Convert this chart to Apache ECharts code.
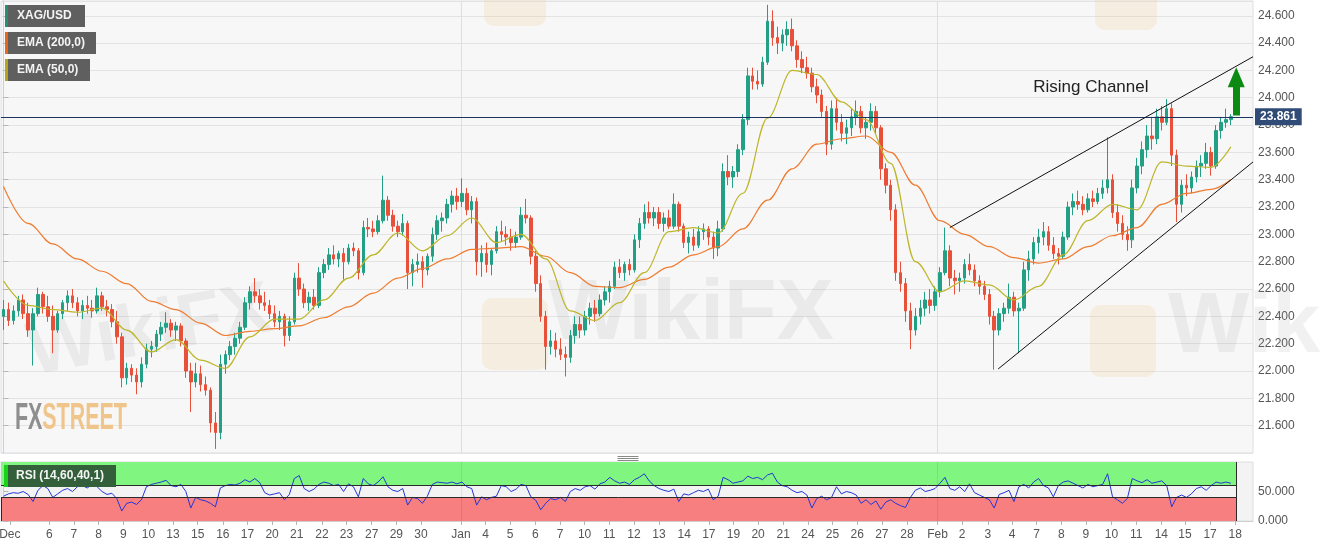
<!DOCTYPE html>
<html><head><meta charset="utf-8">
<script src="https://cdn.jsdelivr.net/npm/echarts@6/dist/echarts.min.js"></script>
<style>html,body{margin:0;padding:0;background:#fff}#c{width:1324px;height:548px}</style>
</head><body><div id="c"></div>
<script>
// ---- XAG/USD candles ----
const opens = [
22.40,22.45,22.37,22.44,22.52,22.42,22.30,22.42,22.56,22.47,
22.40,22.30,22.42,22.50,22.55,22.50,22.44,22.48,22.46,22.44,
22.55,22.47,22.45,22.36,22.25,21.95,22.02,21.97,21.92,22.05,
22.16,22.18,22.27,22.32,22.35,22.30,22.33,22.22,22.00,21.92,
21.98,21.90,21.86,21.62,21.55,22.05,22.12,22.18,22.24,22.32,
22.50,22.58,22.55,22.50,22.48,22.42,22.36,22.40,22.26,22.36,
22.68,22.60,22.50,22.54,22.48,22.72,22.78,22.85,22.82,22.86,
22.80,22.90,22.88,22.72,23.05,23.04,23.02,23.10,23.25,23.14,
23.06,23.02,23.08,22.72,22.78,22.80,22.74,22.84,23.00,23.10,
23.12,23.22,23.28,23.24,23.30,23.18,23.24,22.80,22.86,22.78,
22.88,23.02,23.00,22.98,22.94,22.98,23.14,23.12,22.84,22.64,
22.40,22.18,22.22,22.16,22.12,22.10,22.26,22.34,22.30,22.40,
22.46,22.42,22.52,22.58,22.62,22.76,22.72,22.78,22.74,22.96,
23.08,23.16,23.12,23.16,23.08,23.12,23.06,23.22,23.06,22.94,
22.98,22.92,23.02,23.04,22.98,22.90,23.04,23.46,23.42,23.46,
23.62,23.84,24.16,24.12,24.10,24.26,24.56,24.44,24.40,24.46,
24.50,24.38,24.28,24.22,24.18,24.08,24.02,23.90,23.66,23.92,
23.82,23.74,23.78,23.86,23.90,23.78,23.82,23.90,23.78,23.48,
23.36,23.18,22.72,22.64,22.44,22.30,22.40,22.46,22.52,22.48,
22.58,22.72,22.88,22.68,22.66,22.68,22.78,22.74,22.66,22.62,
22.56,22.40,22.30,22.42,22.46,22.54,22.44,22.46,22.74,22.82,
22.94,22.98,23.02,22.92,22.86,22.84,22.98,23.20,23.24,23.22,
23.18,23.26,23.24,23.30,23.34,23.40,23.16,23.08,23.00,22.96,
23.34,23.50,23.62,23.72,23.70,23.86,23.82,23.92,23.58,23.22,
23.36,23.34,23.42,23.50,23.52,23.60,23.50,23.76,23.82,23.84];
const closes = [
22.45,22.37,22.44,22.52,22.42,22.30,22.42,22.56,22.47,22.40,
22.30,22.42,22.50,22.55,22.50,22.44,22.48,22.46,22.44,22.55,
22.47,22.45,22.36,22.25,21.95,22.02,21.97,21.92,22.05,22.16,
22.18,22.27,22.32,22.35,22.30,22.33,22.22,22.00,21.92,21.98,
21.90,21.86,21.62,21.55,22.05,22.12,22.18,22.24,22.32,22.50,
22.58,22.55,22.50,22.48,22.42,22.36,22.40,22.26,22.36,22.68,
22.60,22.50,22.54,22.48,22.72,22.78,22.85,22.82,22.86,22.80,
22.90,22.88,22.72,23.05,23.04,23.02,23.10,23.25,23.14,23.06,
23.02,23.08,22.72,22.78,22.80,22.74,22.84,23.00,23.10,23.12,
23.22,23.28,23.24,23.30,23.18,23.24,22.80,22.86,22.78,22.88,
23.02,23.00,22.98,22.94,22.98,23.14,23.12,22.84,22.64,22.40,
22.18,22.22,22.16,22.12,22.10,22.26,22.34,22.30,22.40,22.46,
22.42,22.52,22.58,22.62,22.76,22.72,22.78,22.74,22.96,23.08,
23.16,23.12,23.16,23.08,23.12,23.06,23.22,23.06,22.94,22.98,
22.92,23.02,23.04,22.98,22.90,23.04,23.46,23.42,23.46,23.62,
23.84,24.16,24.12,24.10,24.26,24.56,24.44,24.40,24.46,24.50,
24.38,24.28,24.22,24.18,24.08,24.02,23.90,23.66,23.92,23.82,
23.74,23.78,23.86,23.90,23.78,23.82,23.90,23.78,23.48,23.36,
23.18,22.72,22.64,22.44,22.30,22.40,22.46,22.52,22.48,22.58,
22.72,22.88,22.68,22.66,22.68,22.78,22.74,22.66,22.62,22.56,
22.40,22.30,22.42,22.46,22.54,22.44,22.46,22.74,22.82,22.94,
22.98,23.02,22.92,22.86,22.84,22.98,23.20,23.24,23.22,23.18,
23.26,23.24,23.30,23.34,23.40,23.16,23.08,23.00,22.96,23.34,
23.50,23.62,23.72,23.70,23.86,23.82,23.92,23.58,23.22,23.36,
23.34,23.42,23.50,23.52,23.60,23.50,23.76,23.82,23.84,23.861];
const lows = [
22.30,22.33,22.34,22.40,22.38,22.25,22.04,22.40,22.42,22.36,
22.13,22.28,22.38,22.44,22.46,22.40,22.38,22.42,22.39,22.42,
22.44,22.40,22.32,22.20,21.88,21.90,21.92,21.83,21.88,22.02,
22.10,22.14,22.22,22.28,22.25,22.22,22.18,21.95,21.70,21.88,
21.85,21.82,21.55,21.43,21.50,21.98,22.08,22.12,22.20,22.30,
22.45,22.50,22.45,22.44,22.38,22.32,22.30,22.18,22.22,22.34,
22.55,22.46,22.44,22.45,22.46,22.68,22.74,22.78,22.76,22.67,
22.78,22.84,22.67,22.70,22.98,22.98,23.00,23.08,23.10,23.02,
22.98,22.99,22.60,22.62,22.72,22.61,22.70,22.80,22.96,23.02,
23.08,23.16,23.18,23.20,23.14,23.08,22.70,22.69,22.72,22.70,
22.86,22.95,22.92,22.88,22.90,22.96,23.08,22.78,22.58,22.36,
22.01,22.12,22.10,22.08,21.96,22.06,22.20,22.24,22.26,22.34,
22.36,22.40,22.48,22.50,22.60,22.68,22.66,22.70,22.72,22.90,
23.04,23.08,23.06,23.04,23.02,23.04,23.04,23.02,22.90,22.86,
22.88,22.90,22.96,22.92,22.82,22.84,23.02,23.36,23.34,23.42,
23.58,23.80,24.06,24.06,24.08,24.24,24.38,24.32,24.34,24.38,
24.34,24.22,24.18,24.14,24.04,23.96,23.86,23.58,23.62,23.76,
23.68,23.66,23.72,23.80,23.74,23.70,23.76,23.74,23.40,23.30,
23.10,22.66,22.58,22.36,22.16,22.26,22.34,22.40,22.42,22.44,
22.54,22.70,22.62,22.56,22.58,22.64,22.70,22.62,22.56,22.52,
22.34,22.01,22.26,22.36,22.42,22.40,22.13,22.44,22.66,22.78,
22.86,22.92,22.88,22.82,22.78,22.82,22.96,23.14,23.18,23.14,
23.16,23.20,23.22,23.26,23.30,23.12,23.02,22.96,22.88,22.90,
23.30,23.44,23.56,23.62,23.66,23.76,23.80,23.50,23.09,23.16,
23.28,23.30,23.38,23.42,23.48,23.43,23.48,23.70,23.78,23.80];
const highs = [
22.52,22.50,22.48,22.55,22.56,22.50,22.46,22.61,22.58,22.55,
22.48,22.44,22.52,22.59,22.60,22.54,22.52,22.55,22.52,22.61,
22.58,22.52,22.49,22.44,22.28,22.06,22.05,22.02,22.10,22.20,
22.22,22.30,22.36,22.43,22.38,22.36,22.35,22.24,22.06,22.06,
22.04,21.96,21.88,21.70,22.12,22.15,22.22,22.28,22.36,22.54,
22.62,22.68,22.60,22.58,22.52,22.48,22.44,22.42,22.40,22.72,
22.79,22.64,22.58,22.60,22.76,22.82,22.90,22.92,22.88,22.90,
22.93,22.94,22.90,23.10,23.12,23.10,23.14,23.43,23.28,23.18,
23.10,23.15,23.10,22.82,22.86,22.84,22.86,23.05,23.14,23.16,
23.26,23.32,23.34,23.41,23.34,23.28,23.27,22.92,22.94,22.90,
23.06,23.10,23.06,23.04,23.02,23.20,23.26,23.14,22.88,22.70,
22.44,22.30,22.28,22.24,22.18,22.30,22.40,22.40,22.44,22.50,
22.52,22.56,22.62,22.66,22.80,22.82,22.80,22.82,23.00,23.12,
23.22,23.24,23.20,23.20,23.16,23.18,23.30,23.24,23.08,23.02,
23.04,23.06,23.08,23.06,23.02,23.10,23.52,23.58,23.50,23.66,
23.88,24.22,24.22,24.20,24.30,24.68,24.64,24.52,24.50,24.56,
24.58,24.42,24.34,24.30,24.22,24.14,24.06,23.94,23.98,24.00,
23.88,23.84,23.92,23.98,23.94,23.86,23.96,23.94,23.80,23.52,
23.40,23.22,22.80,22.68,22.50,22.46,22.52,22.58,22.60,22.62,
22.76,23.05,22.92,22.74,22.72,22.82,22.86,22.78,22.70,22.66,
22.60,22.44,22.46,22.50,22.64,22.58,22.50,22.80,22.88,22.98,
23.04,23.09,23.06,22.98,22.90,23.02,23.24,23.30,23.32,23.28,
23.30,23.32,23.34,23.40,23.71,23.44,23.22,23.14,23.06,23.40,
23.56,23.68,23.80,23.86,23.92,23.94,23.99,23.96,23.62,23.40,
23.44,23.46,23.54,23.58,23.67,23.64,23.80,23.86,23.92,23.88];

// EMA values read every 5 bars (last one at bar 249)
const emaBars = [0,5,10,15,20,25,30,35,40,45,50,55,60,65,70,75,80,85,90,95,100,105,110,115,120,125,130,135,140,145,150,155,160,165,170,175,180,185,190,195,200,205,210,215,220,225,230,235,240,245,249];
const ema200 = [
23.35,23.08,22.93,22.82,22.73,22.64,22.51,22.45,22.35,22.26,
22.29,22.31,22.33,22.39,22.47,22.57,22.68,22.75,22.82,22.89,
22.90,22.91,22.84,22.72,22.62,22.61,22.67,22.76,22.85,22.91,
23.04,23.25,23.48,23.66,23.70,23.72,23.60,23.36,23.10,23.00,
22.91,22.83,22.79,22.82,22.91,22.99,23.05,23.22,23.30,23.33,
23.40];
const ema50 = [
22.66,22.48,22.45,22.43,22.46,22.30,22.14,22.23,22.08,22.02,
22.25,22.38,22.38,22.52,22.68,22.85,23.01,22.88,22.99,23.12,
22.94,23.00,22.82,22.44,22.37,22.50,22.72,23.02,23.05,23.01,
23.30,23.85,24.20,24.17,23.97,23.84,23.52,22.80,22.58,22.66,
22.63,22.52,22.62,22.85,23.10,23.22,23.18,23.53,23.50,23.49,
23.64];

// RSI (14) per bar
const rsi = [
42,46,48,47,50,45,33,52,60,55, 40,46,52,55,50,58,60,56,62,58,
50,45,47,38,17,30,32,28,36,58, 62,64,66,69,60,58,62,50,22,40,
36,34,30,24,56,60,62,61,64,70, 66,72,65,48,44,46,48,36,45,72,
77,55,50,54,62,66,64,60,62,50, 63,58,41,72,63,60,66,75,58,52,
50,55,27,40,38,30,42,62,66,65, 64,66,63,66,58,55,27,41,36,40,
42,60,58,50,54,62,60,41,35,19, 30,38,36,40,33,50,55,52,58,60,
54,63,66,74,68,64,66,62,70,74, 80,68,60,55,52,50,54,33,46,44,
48,52,50,54,36,42,74,70,64,66, 68,76,72,74,70,78,81,66,60,58,
52,48,50,44,22,38,42,36,40,58, 46,50,48,44,30,36,28,34,20,32,
36,30,26,23,40,52,56,50,52,55, 64,74,55,52,58,50,63,48,44,40,
36,22,45,48,52,33,58,62,56,66, 72,60,56,41,60,66,68,64,60,56,
62,58,60,62,80,41,36,30,38,72, 68,65,70,64,66,68,60,24,40,44,
40,46,55,58,52,60,66,64,66,64];

// x-axis day labels and the bar positions where they fall
const tickLabels = ['Dec','6','7','8','9','10','13','15','16','17','20','21','22','23','27','29','30','Jan','4','5','6','7','10','11','12','13','14','17','19','20','21','24','25','26','27','28','Feb','2','3','4','7','8','9','10','11','14','15','17','18'];
const tickBars = [1.3,9.3,14.3,19.3,24.3,29.4,34.4,39.4,44.5,49.5,54.5,59.5,64.6,69.6,74.7,79.7,84.7,92.8,97.8,102.8,107.9,112.9,117.9,122.9,127.9,133,138.1,143.1,148.1,153.1,158.2,163.2,168.2,173.2,178.2,183.3,189.5,194.5,199.7,204.6,209.6,214.6,219.6,224.8,229.8,234.9,239.7,244.8,249.9];

const lastPrice = 23.861;
const channelUpper = [[192.0, 23.05], [253.5, 24.30]];
const channelLower = [[201.8, 22.015], [253.5, 23.53]];
const monthBars = [92.8, 189.5];
const arrowBar = 250.1, arrowFrom = 23.87, arrowTo = 24.15;
const rsiUpper = 60, rsiLower = 40, rsiEnd = 250.1;

// ---- build ----
const SLOTS = 254;
const cats = []; for (let i = 0; i < SLOTS; i++) cats.push(String(i));
const candleData = opens.map((o, i) => [o, closes[i], lows[i], highs[i]]);
const e200 = ema200.map((v, k) => [emaBars[k], v]);
const e50 = ema50.map((v, k) => [emaBars[k], v]);
const rsiData = rsi.map((v, i) => [i, v]);
const FONT = '"Liberation Sans", Arial, sans-serif';

const chart = echarts.init(document.getElementById('c'), null, {renderer: 'canvas'});

function labelBox(left, top, w, stripeW, bg, stripe, text) {
  return {type: 'group', left: left, top: top, z: 100, children: [
    {type: 'rect', z: 100, shape: {x: 0, y: 0, width: w, height: 22}, style: {fill: bg}},
    {type: 'rect', z: 101, shape: {x: 0, y: 0, width: stripeW, height: 22}, style: {fill: stripe}},
    {type: 'text', z: 102, x: 12, y: 11, style: {text: text, fill: '#f4f4f4', font: 'bold 12px ' + FONT, verticalAlign: 'middle'}}
  ]};
}
const wm = 'rgba(150,150,150,0.13)';
const wmLogo = 'rgba(240,200,130,0.2)';

chart.setOption({
  animation: false,
  textStyle: {fontFamily: FONT},
  grid: [
    {left: 1, top: 1, width: 1252, height: 452, show: true, backgroundColor: '#f7f7f7', borderColor: '#dcdce6', borderWidth: 1, outerBoundsMode: 'none', containLabel: false},
    {left: 1, top: 462, width: 1252, height: 59, show: true, backgroundColor: '#f3f3f3', borderColor: '#dcdce6', borderWidth: 1, outerBoundsMode: 'none', containLabel: false}
  ],
  xAxis: [
    {type: 'category', gridIndex: 0, data: cats, boundaryGap: true, show: false},
    {type: 'value', gridIndex: 0, min: -0.5, max: SLOTS - 0.5, show: false},
    {type: 'value', gridIndex: 1, min: -0.5, max: SLOTS - 0.5,
      axisLine: {show: true, lineStyle: {color: '#cfcfcf'}},
      axisTick: {show: true, customValues: tickBars, length: 4, lineStyle: {color: '#b5b5b5'}},
      axisLabel: {show: true, customValues: tickBars, color: '#555', fontSize: 12, margin: 8, hideOverlap: false,
        formatter: function (v) { const k = tickBars.findIndex(t => Math.abs(t - v) < 1e-6); return k >= 0 ? tickLabels[k] : ''; }},
      splitLine: {show: false}}
  ],
  yAxis: [
    {type: 'value', gridIndex: 0, position: 'right', min: 21.4, max: 24.708, interval: 0.2,
      axisLine: {show: true, lineStyle: {color: '#cfcfcf'}},
      axisTick: {show: true, length: 5, lineStyle: {color: '#b5b5b5'}},
      axisLabel: {color: '#555', fontSize: 12, margin: 5, showMinLabel: false, showMaxLabel: false,
        formatter: v => v.toFixed(3)},
      splitLine: {show: true, lineStyle: {color: '#e3e3e3', width: 1}}},
    {type: 'value', gridIndex: 1, position: 'right', min: 0, max: 100, interval: 50,
      axisLine: {show: true, lineStyle: {color: '#cfcfcf'}},
      axisTick: {show: true, length: 5, lineStyle: {color: '#b5b5b5'}},
      axisLabel: {color: '#555', fontSize: 12, margin: 5, showMaxLabel: false, formatter: v => v.toFixed(3)},
      splitLine: {show: false}}
  ],
  series: [
    {type: 'candlestick', name: 'XAG/USD', xAxisIndex: 0, yAxisIndex: 0, data: candleData, barWidth: 3, z: 3,
      itemStyle: {color: '#22a086', color0: '#e8503a', borderColor: '#22a086', borderColor0: '#e8503a', borderWidth: 1},
      markLine: {silent: true, symbol: 'none', animation: false,
        lineStyle: {color: '#1d3461', width: 1, type: 'solid'},
        label: {show: true, position: 'end', distance: 2, formatter: lastPrice.toFixed(3), color: '#fff', backgroundColor: '#2f4b76',
          padding: [3, 5, 2, 5], fontSize: 12, fontWeight: 'bold'},
        data: [{yAxis: lastPrice}]}},
    {type: 'line', name: 'EMA (200,0)', xAxisIndex: 1, yAxisIndex: 0, data: e200, showSymbol: false, smooth: 0.35, smoothMonotone: 'x',
      lineStyle: {color: '#ee7b30', width: 1.2}, z: 4,
      markLine: {silent: true, symbol: 'none', label: {show: false}, lineStyle: {color: '#dedede', width: 1, type: 'solid'}, z: 1,
        data: monthBars.map(b => ({xAxis: b}))}},
    {type: 'line', name: 'EMA (50,0)', xAxisIndex: 1, yAxisIndex: 0, data: e50, showSymbol: false, smooth: 0.35, smoothMonotone: 'x',
      lineStyle: {color: '#bdb52a', width: 1.2}, z: 4},
    {type: 'line', name: 'channelUpper', xAxisIndex: 1, yAxisIndex: 0, data: channelUpper, showSymbol: false,
      lineStyle: {color: '#111', width: 1}, z: 6,
      markPoint: {silent: true, symbol: 'rect', symbolSize: 1, itemStyle: {color: 'rgba(0,0,0,0)'},
        label: {show: true, position: 'inside', formatter: 'Rising Channel', color: '#222', fontSize: 17, fontFamily: FONT},
        data: [{coord: [220.6, 24.078]}]}},
    {type: 'line', name: 'channelLower', xAxisIndex: 1, yAxisIndex: 0, data: channelLower, showSymbol: false,
      lineStyle: {color: '#111', width: 1}, z: 6,
      markLine: {silent: true, symbol: ['none', 'triangle'], symbolSize: [17, 20], label: {show: false},
        lineStyle: {color: '#0d8a12', width: 7, type: 'solid'}, itemStyle: {color: '#0d8a12'},
        data: [[{coord: [arrowBar, arrowFrom]}, {coord: [arrowBar, arrowTo]}]]}},
    {type: 'line', name: 'RSI', xAxisIndex: 2, yAxisIndex: 1, data: rsiData, showSymbol: false,
      lineStyle: {color: '#2336d8', width: 1}, z: 4,
      markArea: {silent: true, itemStyle: {opacity: 1},
        data: [
          [{xAxis: -0.5, yAxis: rsiUpper, itemStyle: {color: '#80f680'}}, {xAxis: rsiEnd, yAxis: 100}],
          [{xAxis: -0.5, yAxis: 0, itemStyle: {color: '#f87f7f'}}, {xAxis: rsiEnd, yAxis: rsiLower}]
        ]},
      markLine: {silent: true, symbol: 'none', label: {show: false}, lineStyle: {color: '#2a2a2a', width: 1, type: 'solid'},
        data: [
          [{coord: [-0.5, rsiUpper]}, {coord: [rsiEnd, rsiUpper]}],
          [{coord: [-0.5, rsiLower]}, {coord: [rsiEnd, rsiLower]}],
          [{coord: [rsiEnd, 0]}, {coord: [rsiEnd, 100]}],
          [{coord: [-0.5, 0]}, {coord: [-0.5, rsiLower]}],
          [{coord: [monthBars[0], 0], lineStyle: {color: 'rgba(0,0,0,0.08)'}}, {coord: [monthBars[0], 100]}],
          [{coord: [monthBars[1], 0], lineStyle: {color: 'rgba(0,0,0,0.08)'}}, {coord: [monthBars[1], 100]}]
        ]}}
  ],
  graphic: [
    // faint watermarks
    {type: 'text', x: 22, y: 318, rotation: 0.18, z: 1, silent: true, style: {text: 'WikiFX', font: 'bold 74px ' + FONT, fill: wm}},
    {type: 'rect', x: 482, y: 298, z: 1, silent: true, shape: {width: 66, height: 72, r: 10}, style: {fill: wmLogo}},
    {type: 'text', x: 548, y: 272, z: 1, silent: true, style: {text: 'WikiFX', font: 'bold 86px ' + FONT, fill: wm}},
    {type: 'rect', x: 1090, y: 305, z: 1, silent: true, shape: {width: 66, height: 72, r: 10}, style: {fill: wmLogo}},
    {type: 'text', x: 1168, y: 285, z: 1, silent: true, style: {text: 'WikiFX', font: 'bold 86px ' + FONT, fill: wm}},
    {type: 'rect', x: 484, y: -44, z: 1, silent: true, shape: {width: 62, height: 70, r: 10}, style: {fill: wmLogo}},
    {type: 'rect', x: 1095, y: -40, z: 1, silent: true, shape: {width: 62, height: 70, r: 10}, style: {fill: wmLogo}},
    // FXSTREET logo
    {type: 'group', x: 15, y: 400, scaleX: 0.58, z: 2, silent: true, children: [
      {type: 'text', z: 2, x: 0, y: 0, style: {text: 'FX', font: 'bold 37px ' + FONT, fill: '#8e8e8e', verticalAlign: 'top'}},
      {type: 'text', z: 2, x: 47, y: 0, style: {text: 'STREET', font: 'bold 37px ' + FONT, fill: '#f0c58c', verticalAlign: 'top'}}
    ]},
    // legend boxes
    labelBox(5, 5, 80, 3, '#5f5f5f', '#2b8c74', 'XAG/USD'),
    labelBox(5, 32, 91, 3, '#5f5f5f', '#e8671c', 'EMA (200,0)'),
    labelBox(5, 59, 85, 3, '#5f5f5f', '#b5a51c', 'EMA (50,0)'),
    // RSI label
    labelBox(4, 465, 112, 4, '#33603a', '#19d219', 'RSI (14,60,40,1)'),
    // panel divider handle
    {type: 'group', left: 615, top: 454, z: 100, silent: true, children: [
      {type: 'line', z: 100, shape: {x1: 0, y1: 0.5, x2: 21, y2: 0.5}, style: {stroke: '#8a8a8a', lineWidth: 1}},
      {type: 'line', z: 100, shape: {x1: 0, y1: 2.5, x2: 21, y2: 2.5}, style: {stroke: '#8a8a8a', lineWidth: 1}},
      {type: 'line', z: 100, shape: {x1: 0, y1: 4.5, x2: 21, y2: 4.5}, style: {stroke: '#8a8a8a', lineWidth: 1}}
    ]}
  ]
});
</script>
</body></html>
